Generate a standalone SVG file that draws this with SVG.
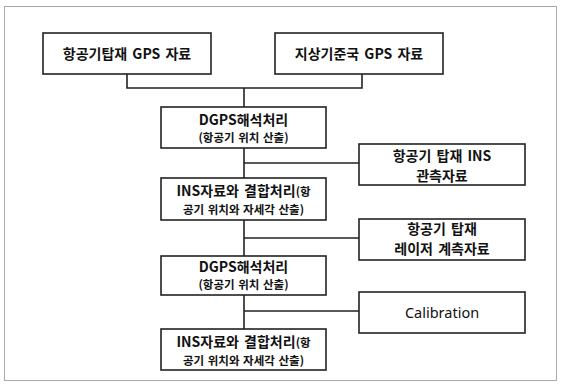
<svg xmlns="http://www.w3.org/2000/svg" width="563" height="385" viewBox="0 0 563 385">
<style>
.frame{fill:none;stroke:#aaa;stroke-width:1}
.box{fill:#fff;stroke:#222;stroke-width:1.6}
.conn{fill:none;stroke:#222;stroke-width:1.6}
text{font-family:"Noto Sans CJK KR","Noto Sans",sans-serif;fill:#111;text-anchor:middle;font-weight:bold}
.big{font-size:14px;word-spacing:2px}
.sm{font-size:11.5px;word-spacing:1px}
.lat{font-family:"Noto Sans","Noto Sans CJK KR",sans-serif;font-weight:normal;font-size:14.5px}
</style>
<rect width="563" height="385" fill="#fff"/>
<rect class="frame" x="4.5" y="6.5" width="552" height="374"/>
<g id="connectors">
<polyline class="conn" points="127,74 127,88 362,88 362,74"/>
<line class="conn" x1="244" y1="88" x2="244" y2="107"/>
<line class="conn" x1="244" y1="148" x2="244" y2="178"/>
<line class="conn" x1="244" y1="163" x2="359" y2="163"/>
<line class="conn" x1="244" y1="220" x2="244" y2="256"/>
<line class="conn" x1="244" y1="238" x2="359" y2="238"/>
<line class="conn" x1="244" y1="295" x2="244" y2="329"/>
<line class="conn" x1="244" y1="311" x2="359" y2="311"/>
</g>
<g id="airGPS">
<rect class="box" x="43" y="33" width="168" height="41"/>
<text class="big" x="127" y="58.5">항공기탑재 GPS 자료</text>
</g>
<g id="groundGPS">
<rect class="box" x="275" y="33" width="168" height="41"/>
<text class="big" x="359" y="58.5">지상기준국 GPS 자료</text>
</g>
<g id="dgps1">
<rect class="box" x="161" y="107" width="165" height="41"/>
<text class="big" x="243.5" y="125">DGPS해석처리</text>
<text class="sm" x="243.5" y="142">(항공기 위치 산출)</text>
</g>
<g id="insObs">
<rect class="box" x="359" y="144" width="166" height="41"/>
<text class="big" x="442" y="161">항공기 탑재 INS</text>
<text class="big" x="442" y="181">관측자료</text>
</g>
<g id="ins1">
<rect class="box" x="161" y="178" width="165" height="42"/>
<text class="big" x="243.5" y="196">INS자료와 결합처리<tspan class="sm">(항</tspan></text>
<text class="sm" x="243.5" y="213.5">공기 위치와 자세각 산출)</text>
</g>
<g id="laser">
<rect class="box" x="359" y="219" width="166" height="41"/>
<text class="big" x="442" y="234">항공기 탑재</text>
<text class="big" x="442" y="254">레이저 계측자료</text>
</g>
<g id="dgps2">
<rect class="box" x="161" y="256" width="165" height="39"/>
<text class="big" x="243.5" y="272">DGPS해석처리</text>
<text class="sm" x="243.5" y="289">(항공기 위치 산출)</text>
</g>
<g id="calibration">
<rect class="box" x="359" y="292" width="166" height="41"/>
<text class="lat" x="442" y="318">Calibration</text>
</g>
<g id="ins2">
<rect class="box" x="161" y="329" width="165" height="41"/>
<text class="big" x="243.5" y="347">INS자료와 결합처리<tspan class="sm">(항</tspan></text>
<text class="sm" x="243.5" y="364.5">공기 위치와 자세각 산출)</text>
</g>
</svg>
